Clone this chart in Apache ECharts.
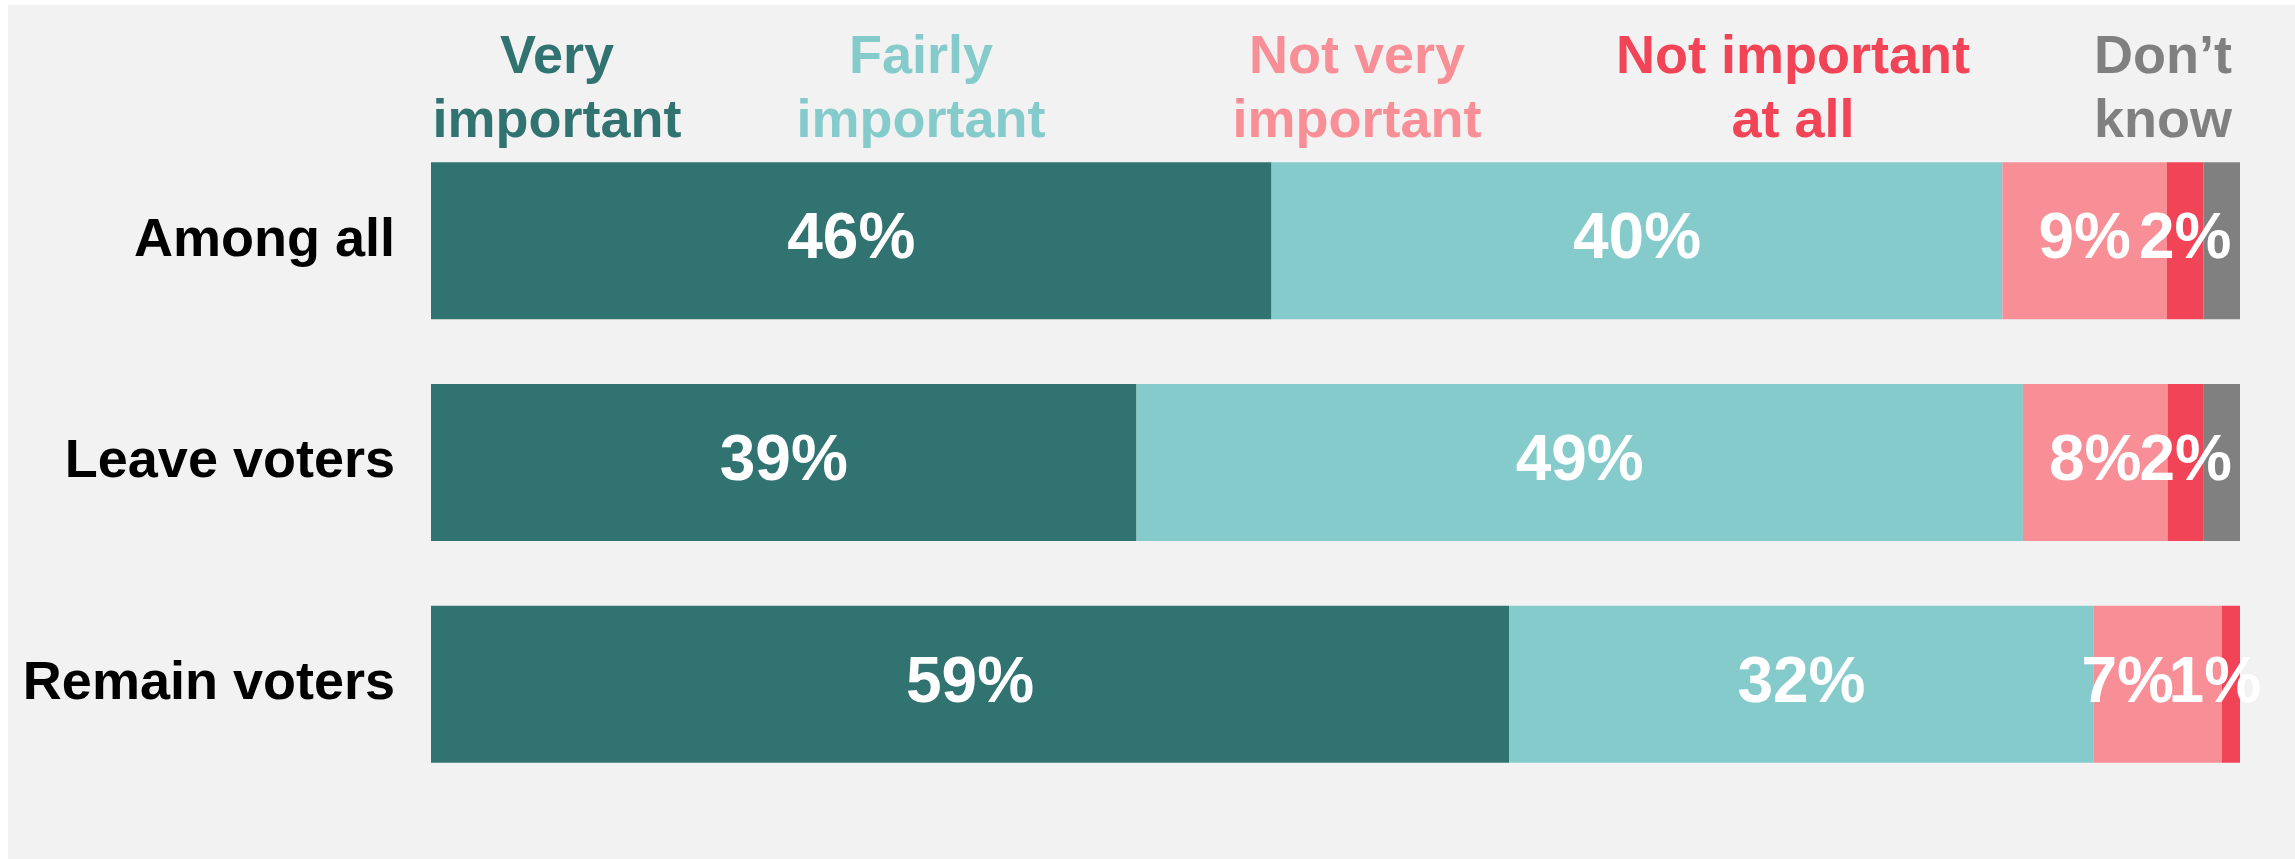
<!DOCTYPE html>
<html>
<head>
<meta charset="utf-8">
<script src="https://cdn.jsdelivr.net/npm/echarts@6/dist/echarts.min.js"></script>
<style>
  html, body { margin: 0; padding: 0; background: #ffffff; }
  #chart { position: absolute; left: 8px; top: 5px; width: 2287px; height: 854px; }
</style>
</head>
<body>
<div id="chart"></div>
<script>
// groups, top to bottom
const groups = ['Among all', 'Leave voters', 'Remain voters']

// answers (percent, as printed on the bars)
const answers = ['Very\nimportant', 'Fairly\nimportant', 'Not very\nimportant', 'Not important\nat all', 'Don\u2019t\nknow']
const veryImportant   = [46, 39, 59]
const fairlyImportant = [40, 49, 32]
const notVery         = [9, 8, 7]
const notAtAll        = [2, 2, 1]
const dontKnow        = [2, 2, 0]

const colors = ['#307371', '#85CBCB', '#F88E96', '#F24457', '#808080']
const font = '"Liberation Sans", Arial, sans-serif'

const allSeries = [veryImportant, fairlyImportant, notVery, notAtAll, dontKnow]

// rows are drawn as 100% stacked, so share of each row's total
const rowTotals = groups.map((g, i) => allSeries.reduce((s, arr) => s + arr[i], 0))

// labels that get pushed left in the crowded last row
const nudge = { 2: { 2: -30 }, 3: { 2: -16 } }

// where the header words sit (x centre in the chart div)
const headerX = [549, 913, 1349, 1785, 2155]

const chart = echarts.init(document.getElementById('chart'))

const series = allSeries.map((arr, si) => ({
    type: 'bar',
    name: answers[si],
    stack: 'total',
    barWidth: 157,
    itemStyle: { color: colors[si] },
    label: {
        show: si < 4,
        position: 'inside',
        color: '#ffffff',
        fontFamily: font,
        fontWeight: 'bold',
        fontSize: 64,
        formatter: p => p.data.raw + '%'
    },
    data: arr.map((v, i) => {
        const item = { value: v / rowTotals[i] * 100, raw: v }
        if (nudge[si] && nudge[si][i]) item.label = { offset: [nudge[si][i], 0] }
        return item
    })
}))

const headers = answers.map((t, i) => ({
    type: 'text',
    x: headerX[i],
    y: 85,
    style: {
        text: t,
        fill: colors[i],
        font: 'bold 54px ' + font,
        lineHeight: 64,
        align: 'center',
        verticalAlign: 'middle'
    }
}))

chart.setOption({
    backgroundColor: '#F2F2F2',
    animation: false,
    grid: { left: 423, right: 55, top: 125, height: 665 },
    xAxis: { type: 'value', min: 0, max: 100, show: false },
    yAxis: {
        type: 'category',
        data: groups,
        inverse: true,
        axisLine: { show: false },
        axisTick: { show: false },
        axisLabel: {
            margin: 36,
            color: '#000000',
            fontFamily: font,
            fontWeight: 'bold',
            fontSize: 54
        }
    },
    graphic: headers,
    series
})
</script>
</body>
</html>
